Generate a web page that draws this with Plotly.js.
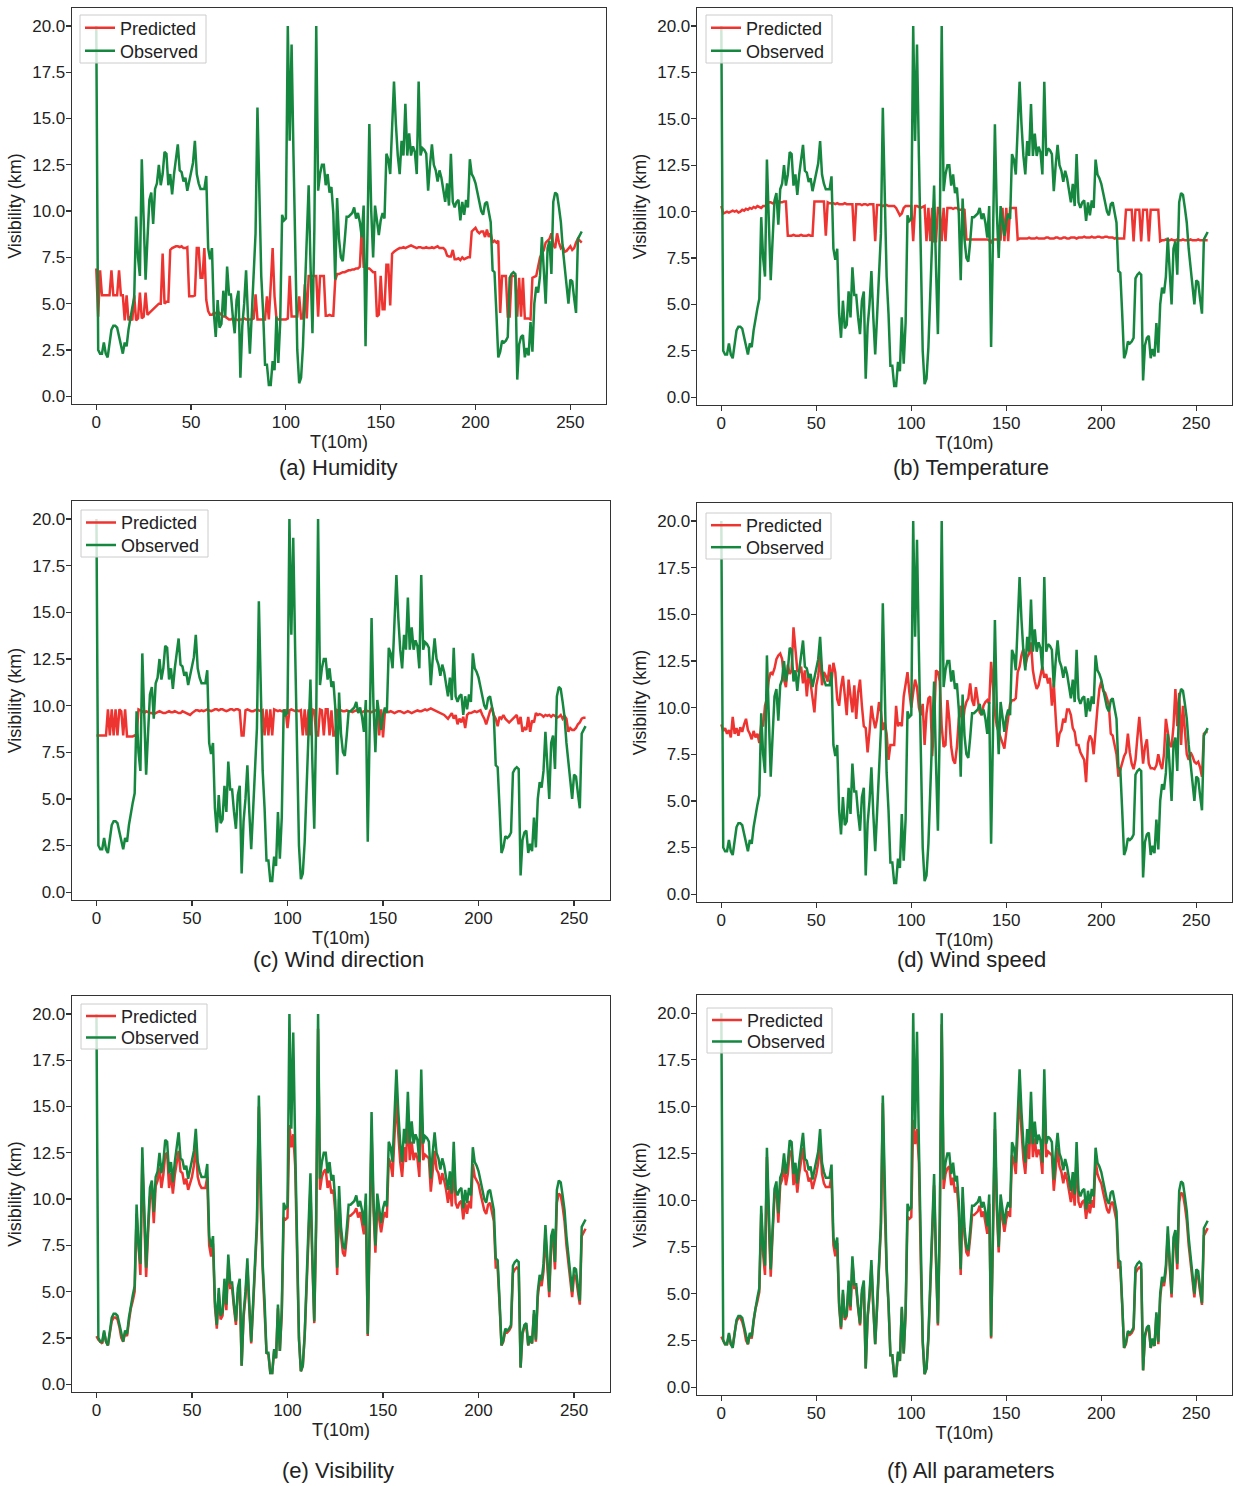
<!DOCTYPE html>
<html>
<head>
<meta charset="utf-8">
<script src="https://cdn.plot.ly/plotly-3.0.1.min.js"></script>
<style>html,body{margin:0;padding:0;background:#fff;}#chart{width:1235px;height:1486px;}</style>
</head>
<body>
<div id="chart"></div>
<script>
// ---- data ----
const T = Array.from({length: 257}, (_, i) => i);
const xTicks = [0, 50, 100, 150, 200, 250];
const yTicks = [0, 2.5, 5, 7.5, 10, 12.5, 15, 17.5, 20];
const seriesNames = ['Predicted', 'Observed'];
const captions = ['(a) Humidity', '(b) Temperature', '(c) Wind direction', '(d) Wind speed', '(e) Visibility', '(f) All parameters'];

const observed = [20.0,2.5,2.3,2.3,2.9,2.3,2.1,3.0,3.6,3.8, 3.8,3.7,3.2,2.6,2.3,2.9,2.7,3.6,4.3,4.8,
5.3,9.7,7.5,6.5,12.8,9.0,6.3,8.5,10.6,11.0, 9.3,11.2,11.5,12.5,11.4,12.0,13.2,13.1,11.4,12.0,
10.9,12.0,12.8,13.6,12.2,12.1,11.6,11.8,11.1,11.6, 12.0,12.6,13.8,12.0,11.5,11.2,11.2,11.2,11.9,8.0,
7.4,8.0,4.5,3.2,5.2,3.7,3.9,5.7,4.3,7.0, 5.5,5.5,4.3,3.4,5.2,5.7,1.0,3.8,5.0,6.8,
4.3,2.3,4.4,6.5,8.8,15.6,10.0,6.5,4.5,1.7, 1.7,0.6,0.6,1.9,1.4,4.3,1.8,4.0,9.8,9.5,
9.6,20.0,13.8,19.0,13.0,7.0,2.5,0.7,1.0,2.7, 5.5,8.5,11.4,7.0,3.4,9.0,20.0,11.1,12.0,12.5,
12.5,11.4,12.0,11.0,11.3,9.9,6.3,10.7,8.5,7.5, 7.3,8.4,9.7,9.7,9.8,9.9,10.2,9.6,9.9,9.4,
8.6,10.3,2.7,8.5,14.7,10.0,7.5,10.3,9.6,8.7, 9.5,9.9,9.6,13.1,12.8,12.0,14.5,17.0,14.7,13.0,
12.0,13.8,13.0,15.8,13.0,14.2,13.0,13.5,13.2,12.0, 17.0,13.0,13.4,13.3,13.1,11.1,12.5,13.6,12.5,12.2,
11.6,12.2,11.8,11.2,10.5,11.5,10.3,13.1,10.5,10.2, 10.5,10.6,9.5,10.5,9.8,10.6,10.2,12.8,12.0,11.8,
11.5,11.0,10.5,10.0,9.8,10.4,10.5,9.9,9.4,6.8, 6.7,4.5,2.1,2.4,3.0,2.9,3.0,3.2,6.4,6.6,
6.7,6.6,0.9,2.8,3.2,3.3,2.1,2.6,2.2,4.0, 2.4,5.0,5.9,5.6,6.5,8.6,6.5,5.0,8.0,8.4,
6.6,10.5,11.0,10.9,10.2,9.4,8.0,7.0,6.0,5.0, 6.3,6.2,5.3,4.5,8.5,8.7,8.9];

const predHumidity = [6.9,4.3,6.8,5.45,5.45,5.45,5.45,5.45,6.8,5.45, 5.45,5.45,6.8,5.45,5.45,4.1,5.45,4.1,4.3,4.1,
5.45,4.1,4.2,5.6,4.2,4.3,5.6,4.4,4.5,4.6, 4.7,4.8,4.9,5.0,5.0,7.7,5.0,5.1,5.1,7.9,
8.0,8.05,8.1,8.1,8.05,8.1,8.0,8.0,8.05,5.4, 5.4,5.4,5.45,8.0,8.0,6.4,6.4,8.0,5.2,4.6,
4.4,4.4,4.5,4.5,4.4,4.5,4.4,4.3,4.3,4.2, 4.15,4.15,4.2,4.15,4.15,4.1,4.15,4.15,4.2,4.15,
4.15,4.15,4.15,4.2,5.5,4.15,4.15,4.15,4.15,4.15, 5.4,4.15,6.0,8.0,5.4,4.2,4.15,4.15,4.15,4.15,
4.15,4.2,6.5,4.3,4.3,4.3,4.3,5.4,4.2,4.2, 6.05,4.2,6.5,6.5,6.5,6.5,6.5,4.3,6.5,6.5,
6.5,4.35,4.35,4.4,4.35,4.35,6.25,6.6,6.6,6.65, 6.7,6.7,6.75,6.8,6.8,6.85,6.85,6.9,6.9,7.0,
9.1,7.0,7.0,6.9,6.9,6.8,6.7,6.7,4.3,4.4, 6.5,4.7,4.7,7.1,7.1,4.9,7.7,7.8,7.9,7.95,
8.0,8.0,8.05,8.0,8.05,8.1,8.15,8.1,8.05,8.0, 8.05,8.05,8.0,8.0,8.05,8.0,8.0,8.05,8.0,8.05,
8.1,8.0,8.0,8.0,7.9,7.6,7.55,7.55,7.9,7.4, 7.4,7.45,7.35,7.5,7.4,7.45,7.5,7.5,8.9,9.0,
9.1,8.9,8.8,8.9,8.9,8.6,9.0,8.6,8.8,8.3, 8.4,8.3,8.4,4.5,6.5,6.5,6.5,4.3,4.3,6.5,
6.5,6.5,4.3,6.4,4.3,6.4,4.2,4.2,4.2,4.15, 6.4,6.45,6.5,7.0,7.5,7.7,7.9,8.3,8.4,8.5,
8.8,8.2,8.0,8.8,8.3,8.0,8.1,7.8,7.85,8.0, 8.1,7.9,8.0,8.3,8.5,8.4,8.3];

const predTemperature = [10.3,9.9,9.95,10.0,9.95,10.0,10.05,10.0,10.05,9.95, 10.0,10.1,10.05,10.15,10.1,10.2,10.15,10.25,10.2,10.3,
10.25,10.2,10.3,10.3,10.35,10.5,10.5,10.45,10.5,10.5, 10.55,10.5,10.5,10.55,10.55,8.7,8.7,8.7,8.75,8.7,
8.7,8.7,8.75,8.7,8.7,8.7,8.75,8.7,8.7,10.55, 10.55,10.55,10.55,10.55,10.55,8.7,10.5,10.45,10.45,10.45,
10.4,10.45,10.4,10.4,10.4,10.45,10.4,10.4,10.4,10.4, 8.4,10.4,10.4,10.4,10.35,10.4,10.4,10.35,10.4,10.4,
10.4,8.4,10.35,10.35,10.35,10.3,10.35,10.35,10.3,10.3, 10.3,10.3,10.2,10.0,9.8,9.9,10.2,10.3,10.3,10.3,
10.3,8.4,10.3,10.3,10.25,10.2,10.25,10.3,8.4,10.2, 8.4,10.2,8.4,8.4,10.2,10.2,8.4,10.2,8.4,10.2,
10.2,10.2,10.15,10.2,10.2,10.1,10.1,10.15,10.1,8.5, 8.5,8.5,8.5,8.5,8.5,8.5,8.5,8.5,8.5,8.5,
8.5,8.45,8.35,8.5,8.5,8.5,8.5,8.5,10.2,8.4, 10.2,8.4,10.2,10.2,10.2,10.2,8.5,8.55,8.55,8.55,
8.55,8.55,8.6,8.55,8.55,8.55,8.6,8.55,8.55,8.55, 8.55,8.6,8.6,8.55,8.55,8.55,8.6,8.6,8.55,8.55,
8.6,8.6,8.55,8.55,8.6,8.6,8.6,8.55,8.6,8.6, 8.6,8.65,8.6,8.6,8.6,8.65,8.6,8.6,8.65,8.65,
8.6,8.6,8.65,8.65,8.6,8.6,8.6,8.55,8.6,8.55, 8.55,8.55,8.55,10.1,10.1,10.1,10.1,8.4,10.1,10.1,
10.1,8.4,10.1,10.1,10.1,8.4,10.1,10.1,10.1,10.1, 10.1,8.4,8.45,8.45,8.5,8.45,8.45,8.5,8.45,8.45,
8.5,8.45,8.45,8.5,8.45,8.45,8.45,8.5,8.45,8.45, 8.45,8.5,8.45,8.45,8.45,8.45,8.45];

const predWindDir = [8.4,8.4,8.4,8.4,8.4,8.4,9.8,8.4,9.8,8.4, 9.8,8.4,9.8,9.7,8.4,9.8,8.35,8.35,8.35,8.35,
8.4,8.35,9.8,9.75,9.7,9.6,9.7,9.65,9.6,9.6, 9.55,9.6,9.65,9.7,9.65,9.6,9.6,9.65,9.7,9.65,
9.65,9.7,9.65,9.6,9.6,9.7,9.65,9.6,9.55,9.5, 9.6,9.7,9.75,9.75,9.7,9.75,9.7,9.75,9.8,9.75,
9.7,9.75,9.8,9.8,9.75,9.8,9.8,9.75,9.7,9.75, 9.8,9.8,9.75,9.8,9.8,9.75,8.4,8.4,9.75,9.8,
9.75,9.7,9.7,9.75,9.8,9.75,9.7,9.75,8.4,9.8, 8.4,9.8,8.4,9.8,9.75,9.7,9.75,9.7,9.7,9.75,
8.8,9.75,9.8,9.75,9.7,9.75,9.7,9.75,8.4,9.8, 8.4,9.8,8.4,9.8,9.75,8.4,8.4,9.8,9.75,8.4,
9.8,9.8,8.4,9.75,8.4,8.4,9.75,9.7,9.75,9.7, 9.7,9.75,9.7,9.7,9.65,9.7,9.75,9.7,9.7,9.65,
9.7,9.75,9.7,9.7,9.65,9.7,9.75,9.7,8.4,9.8, 8.3,9.7,9.7,9.65,9.7,9.65,9.6,9.65,9.7,9.7,
9.65,9.6,9.65,9.7,9.65,9.6,9.65,9.7,9.75,9.7, 9.7,9.75,9.8,9.75,9.8,9.85,9.8,9.75,9.7,9.65,
9.6,9.55,9.5,9.4,9.3,9.45,9.6,9.3,9.5,9.0, 9.3,9.1,9.4,8.8,9.5,9.6,9.6,9.65,9.7,9.65,
9.7,9.75,9.5,9.3,9.0,9.4,9.7,9.9,9.5,9.3, 8.9,9.4,9.3,9.5,9.3,9.2,9.1,9.2,9.3,9.4,
9.5,9.0,9.4,8.6,8.8,8.7,9.4,8.6,9.2,9.1, 9.6,9.5,9.55,9.5,9.4,9.5,9.45,9.5,9.4,9.5,
9.45,9.35,9.4,9.5,9.3,9.45,9.3,8.6,8.8,8.7, 8.7,8.8,9.0,9.1,9.3,9.35,9.35];

const predWindSpeed = [9.1,8.75,8.9,8.6,8.8,8.4,9.5,8.6,8.9,8.5, 8.95,8.7,9.1,9.4,8.8,8.6,8.3,8.75,8.4,8.6,
8.1,9.1,9.0,10.1,10.5,11.5,11.9,11.8,12.1,12.6, 12.8,12.9,12.6,11.5,11.1,12.3,11.8,12.0,14.3,13.2,
12.0,11.9,12.2,11.3,12.0,10.6,11.8,11.3,10.6,9.75, 11.2,11.7,12.8,11.2,11.9,11.7,11.4,12.3,11.4,12.4,
11.9,10.45,10.1,11.1,11.7,10.45,9.6,11.5,10.45,9.75, 11.2,9.4,10.8,11.5,10.1,9.0,8.9,7.6,8.7,10.1,
9.4,8.9,9.4,10.3,9.8,8.8,9.2,8.6,7.2,8.0, 8.0,8.0,10.1,9.0,9.2,9.0,10.6,11.2,11.9,10.8,
10.0,10.8,11.5,11.1,10.0,9.6,10.2,8.0,9.7,10.5, 10.6,7.4,9.2,12.0,11.9,11.4,9.0,7.9,8.0,10.4,
9.4,7.9,7.2,7.0,7.9,9.4,10.1,9.0,9.9,10.3, 10.5,11.3,10.4,10.1,11.1,10.4,9.75,9.6,10.1,10.3,
10.4,10.2,12.45,11.2,9.75,9.0,8.7,8.3,8.0,7.8, 8.7,9.6,10.2,10.4,10.4,10.5,11.9,12.2,12.8,13.15,
12.2,12.7,12.9,13.5,12.0,11.4,11.0,11.2,11.8,12.2, 11.6,11.8,11.3,11.6,10.1,11.3,9.5,7.9,8.6,8.8,
9.4,9.2,9.9,9.9,9.6,8.9,8.7,8.0,8.0,7.6, 7.4,7.2,6.0,8.1,8.5,8.3,7.5,8.9,10.0,11.0,
11.4,10.9,10.8,10.5,10.1,8.6,8.5,8.0,7.5,6.3, 6.7,7.0,7.4,7.6,8.6,7.6,7.0,6.7,7.2,8.4,
9.5,8.3,7.0,7.9,8.3,7.0,6.75,6.75,6.7,6.9, 7.5,7.0,6.7,7.5,9.4,8.7,8.0,7.9,9.0,11.0,
9.0,10.8,8.0,10.1,8.5,7.5,7.2,7.6,7.4,7.1, 7.0,7.1,6.8,6.3,8.6,8.7,8.7];

const predVisibility = [2.6,2.4,2.3,2.2,2.8,2.3,2.1,2.9,3.4,3.6, 3.6,3.5,3.1,2.5,2.3,2.8,2.6,3.4,4.1,4.5,
5.0,9.2,7.2,5.9,12.2,8.6,5.8,8.1,10.1,10.6, 8.7,10.7,11.0,11.7,10.6,11.3,12.4,12.5,10.6,11.4,
10.3,11.3,11.9,12.6,11.5,11.4,10.8,11.1,10.5,10.9, 11.2,11.8,12.9,11.2,10.8,10.6,10.6,10.6,11.2,7.5,
6.9,7.6,4.2,3.0,4.9,3.5,3.7,5.3,4.0,6.6, 5.2,5.2,4.1,3.2,4.9,5.4,1.0,3.6,4.7,6.4,
4.1,2.2,4.2,6.2,8.4,15.0,9.5,6.2,4.3,1.7, 1.6,0.6,0.6,1.8,1.4,4.1,1.8,3.8,9.0,8.9,
9.0,14.0,12.8,13.5,11.8,6.5,2.4,0.7,1.0,2.6, 5.2,8.0,10.6,6.6,3.3,8.5,19.2,10.5,11.2,11.5,
11.6,10.6,11.0,10.3,10.5,9.3,5.9,10.0,8.0,7.1, 6.9,7.9,9.1,9.1,9.2,9.3,9.5,9.0,9.3,8.8,
8.1,9.7,2.6,8.0,13.6,9.4,7.1,9.6,9.0,8.2, 8.9,9.3,9.0,12.2,11.9,11.2,13.4,15.4,13.5,12.0,
11.2,12.8,12.0,14.5,12.1,13.1,12.1,12.5,12.2,11.2, 15.6,12.1,12.4,12.3,12.2,10.4,11.6,12.6,11.6,11.4,
10.8,11.4,11.0,10.5,9.8,10.7,9.6,12.1,9.8,9.5, 9.8,9.9,8.9,9.8,9.2,9.9,9.5,11.9,11.2,11.0,
10.8,10.3,9.8,9.4,9.2,9.7,9.8,9.3,8.8,6.3, 6.3,4.3,2.1,2.3,2.9,2.8,2.9,3.1,6.0,6.2,
6.3,6.2,0.9,2.7,3.1,3.2,2.1,2.5,2.2,3.8, 2.3,4.7,5.6,5.3,6.1,8.1,6.1,4.7,7.5,7.9,
6.2,9.8,10.3,10.2,9.6,8.8,7.5,6.6,5.7,4.7, 5.9,5.8,5.0,4.3,8.0,8.2,8.4];

const predAll = [2.7,2.5,2.3,2.3,2.8,2.3,2.2,2.9,3.5,3.7, 3.7,3.5,3.1,2.5,2.3,2.8,2.6,3.5,4.2,4.6,
5.1,9.3,7.1,6.0,12.3,8.7,5.9,8.2,10.2,10.7, 8.8,10.8,11.1,11.9,10.8,11.4,12.6,12.6,10.8,11.5,
10.4,11.4,12.1,12.8,11.6,11.5,11.0,11.2,10.6,11.0, 11.4,12.0,13.1,11.4,10.9,10.7,10.7,10.7,11.3,7.6,
7.0,7.7,4.3,3.1,5.0,3.6,3.8,5.4,4.1,6.7, 5.3,5.3,4.2,3.3,5.0,5.5,1.0,3.7,4.8,6.5,
4.2,2.3,4.3,6.3,8.5,15.2,9.6,6.3,4.4,1.7, 1.7,0.6,0.6,1.8,1.4,4.2,1.8,3.9,9.1,9.0,
9.1,14.3,13.0,13.8,12.0,6.6,2.4,0.7,1.0,2.6, 5.3,8.1,10.8,6.7,3.3,8.6,19.4,10.6,11.4,11.7,
11.8,10.8,11.2,10.4,10.7,9.4,6.0,10.1,8.1,7.2, 7.0,8.0,9.2,9.2,9.3,9.4,9.7,9.1,9.4,8.9,
8.2,9.8,2.6,8.1,13.8,9.5,7.2,9.7,9.1,8.3, 9.0,9.4,9.1,12.4,12.1,11.4,13.6,15.8,13.7,12.2,
11.4,13.0,12.2,14.8,12.3,13.3,12.3,12.7,12.4,11.4, 15.9,12.3,12.6,12.5,12.4,10.5,11.8,12.8,11.8,11.5,
10.9,11.5,11.1,10.6,9.9,10.8,9.7,12.3,9.9,9.6, 9.9,10.0,9.0,9.9,9.3,10.0,9.6,12.1,11.4,11.1,
10.9,10.4,9.9,9.5,9.3,9.8,9.9,9.4,8.9,6.4, 6.4,4.4,2.1,2.3,2.9,2.8,2.9,3.1,6.1,6.3,
6.4,6.3,0.9,2.7,3.1,3.2,2.1,2.5,2.2,3.9, 2.3,4.8,5.7,5.4,6.2,8.2,6.2,4.8,7.6,8.0,
6.3,9.9,10.4,10.3,9.7,8.9,7.6,6.7,5.8,4.8, 6.0,5.9,5.1,4.4,8.1,8.3,8.5];

const predictedSets = [predHumidity, predTemperature, predWindDir, predWindSpeed, predVisibility, predAll];

// ---- layout (pixel boxes: plot l/r/t/b, legend box l/r/t/b, caption centre) ----
const W = 1235, H = 1486;
const boxes = [
  {l: 72, r: 606, t: 8, b: 404, ll: 80, lr: 206, lt: 15, lb: 63, cx: 338, cy: 468},
  {l: 697, r: 1232, t: 8, b: 405, ll: 706, lr: 832, lt: 15, lb: 63, cx: 971, cy: 468},
  {l: 72, r: 610, t: 501, b: 900, ll: 81, lr: 208, lt: 510, lb: 557, cx: 338, cy: 959},
  {l: 697, r: 1232, t: 503, b: 902, ll: 706, lr: 831, lt: 513, lb: 559, cx: 971, cy: 959},
  {l: 72, r: 610, t: 996, b: 1392, ll: 81, lr: 207, lt: 1004, lb: 1049, cx: 338, cy: 1470},
  {l: 697, r: 1232, t: 995, b: 1395, ll: 707, lr: 832, lt: 1008, lb: 1053, cx: 971, cy: 1470}
];
const RED = '#EE3430', GREEN = '#15873F', AX = '#333333', TXT = '#222222';
const FONT = 'Liberation Sans, Arial, Helvetica, sans-serif';
const px = v => v / W, py = v => 1 - v / H;

const data = [];
const layout = {
  width: W, height: H, margin: {l: 0, r: 0, t: 0, b: 0},
  paper_bgcolor: '#ffffff', plot_bgcolor: '#ffffff',
  font: {family: FONT, color: TXT, size: 17},
  showlegend: true, annotations: [], shapes: []
};

boxes.forEach((bx, k) => {
  const n = k === 0 ? '' : String(k + 1);
  const i1 = 2 * k + 1, i2 = 2 * k + 2;
  const legP = i1 === 1 ? 'legend' : 'legend' + i1;
  const legO = 'legend' + i2;
  data.push({x: T, y: predictedSets[k], type: 'scatter', mode: 'lines', name: seriesNames[0],
    xaxis: 'x' + n, yaxis: 'y' + n, legend: legP, line: {color: RED, width: 2.5}});
  data.push({x: T, y: observed, type: 'scatter', mode: 'lines', name: seriesNames[1],
    xaxis: 'x' + n, yaxis: 'y' + n, legend: legO, line: {color: GREEN, width: 2.5}});
  const common = {showline: true, linecolor: AX, linewidth: 1.3, mirror: true, showgrid: false, zeroline: false,
    ticks: 'outside', ticklen: 5, tickwidth: 1.2, tickcolor: AX, ticklabelstandoff: -3,
    tickfont: {size: 17, color: TXT, family: FONT}, automargin: false};
  layout['xaxis' + n] = Object.assign({}, common, {
    domain: [px(bx.l), px(bx.r)], anchor: 'y' + n, range: [-12.8, 268.8],
    tickmode: 'array', tickvals: xTicks, ticktext: xTicks.map(String),
    title: {text: 'T(10m)', font: {size: 18, color: TXT}, standoff: 2}
  });
  layout['yaxis' + n] = Object.assign({}, common, {
    domain: [py(bx.b), py(bx.t)], anchor: 'x' + n, range: [-0.42, 20.97],
    tickmode: 'array', tickvals: yTicks, ticktext: yTicks.map(v => v.toFixed(1)),
    title: {text: 'Visibility (km)', font: {size: 18, color: TXT}, standoff: 6}
  });
  // legend frame
  layout.shapes.push({type: 'rect', xref: 'paper', yref: 'paper', layer: 'above',
    x0: px(bx.ll), x1: px(bx.lr), y0: py(bx.lb), y1: py(bx.lt),
    line: {color: '#cccccc', width: 1}, fillcolor: 'rgba(255,255,255,0.8)'});
  const rowH = (bx.lb - bx.lt) / 2;
  const legCommon = {xanchor: 'left', yanchor: 'middle', bgcolor: 'rgba(0,0,0,0)', borderwidth: 0,
    font: {size: 18, color: TXT, family: FONT}, itemwidth: 30};
  layout[legP] = Object.assign({}, legCommon, {x: px(bx.ll), y: py(bx.lt + rowH * 0.5 + 1)});
  layout[legO] = Object.assign({}, legCommon, {x: px(bx.ll), y: py(bx.lt + rowH * 1.5)});
  layout.annotations.push({text: captions[k], xref: 'paper', yref: 'paper', x: px(bx.cx), y: py(bx.cy),
    xanchor: 'center', yanchor: 'middle', showarrow: false, font: {size: 22, color: TXT, family: FONT}});
});

Plotly.newPlot('chart', data, layout, {displayModeBar: false, staticPlot: true});
</script>
</body>
</html>
